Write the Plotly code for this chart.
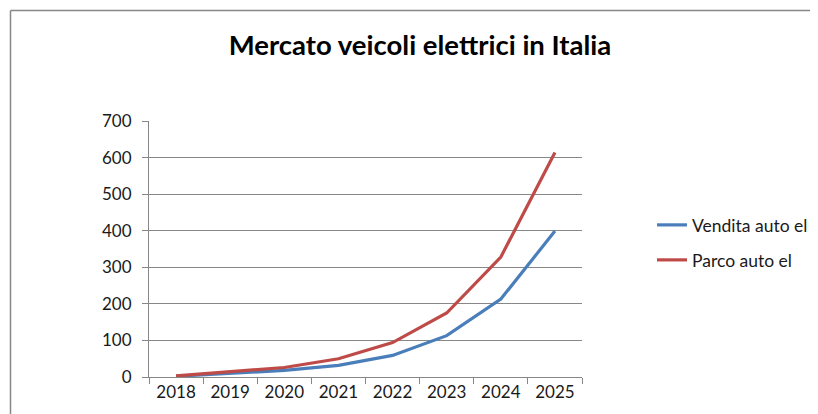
import plotly.graph_objects as go

years = ["2018", "2019", "2020", "2021", "2022", "2023", "2024", "2025"]
vendita = [2, 9, 18, 32, 59, 113, 213, 399]
parco = [3, 14, 26, 50, 94, 175, 328, 614]
y_ticks = [0, 100, 200, 300, 400, 500, 600, 700]

FONT = "Lato"
GRAY = "#878787"
TXT = "#1a1a1a"
OFF = 8  # page body offset

fig = go.Figure()
fig.add_trace(go.Scatter(x=years, y=vendita, mode="lines", name="Vendita auto el",
                         line=dict(color="#4A7EBB", width=3.2), legend="legend"))
fig.add_trace(go.Scatter(x=years, y=parco, mode="lines", name="Parco auto el",
                         line=dict(color="#BE4B48", width=3.2), legend="legend2"))

W, H = 818, 414
L, R, T, B = 149 - OFF, 582 - OFF, 121 - OFF, 377 - OFF
pw, ph = R - L, B - T

def px(x):
    return (x - OFF - L) / pw

def py(y):
    return (B - (y - OFF)) / ph

border = dict(color=GRAY, width=1.5)

fig.update_layout(
    width=W, height=H,
    margin=dict(l=L, r=W - R, t=T, b=H - B),
    paper_bgcolor="white", plot_bgcolor="white",
    font=dict(family=FONT, size=17, color=TXT),
    title=dict(text="<b>Mercato veicoli elettrici in Italia</b>", x=px(420), xref="paper",
               xanchor="center", y=1 - (45 - OFF) / H, yanchor="middle",
               font=dict(family=FONT, size=27.5, color="black")),
    showlegend=True,
    legend=dict(x=px(652), y=py(225), xanchor="left", yanchor="middle",
                font=dict(family=FONT, size=17.5, color=TXT), bgcolor="rgba(0,0,0,0)"),
    legend2=dict(x=px(652), y=py(260), xanchor="left", yanchor="middle",
                 font=dict(family=FONT, size=17.5, color=TXT), bgcolor="rgba(0,0,0,0)"),
    xaxis=dict(type="category", range=[-0.5, 7.5], tickson="boundaries",
               ticks="outside", ticklen=6, tickcolor=GRAY, tickwidth=1,
               showline=True, linecolor=GRAY, linewidth=1, showgrid=False,
               zeroline=False, tickfont=dict(family=FONT, size=17, color=TXT),
               fixedrange=True),
    yaxis=dict(range=[0, 700], tickvals=y_ticks, ticks="outside", ticklen=6,
               tickcolor=GRAY, tickwidth=1, showline=True, linecolor=GRAY, linewidth=1,
               showgrid=True, gridcolor=GRAY, gridwidth=1, zeroline=False,
               tickfont=dict(family=FONT, size=17, color=TXT), ticklabelstandoff=7,
               fixedrange=True),
    shapes=[
        dict(type="line", xref="paper", yref="paper",
             x0=px(10.5), x1=px(830), y0=py(10.5), y1=py(10.5), line=border, layer="below"),
        dict(type="line", xref="paper", yref="paper",
             x0=px(10.5), x1=px(10.5), y0=py(10.5), y1=py(430), line=border, layer="below"),
    ],
)

fig.write_html("out.html")
